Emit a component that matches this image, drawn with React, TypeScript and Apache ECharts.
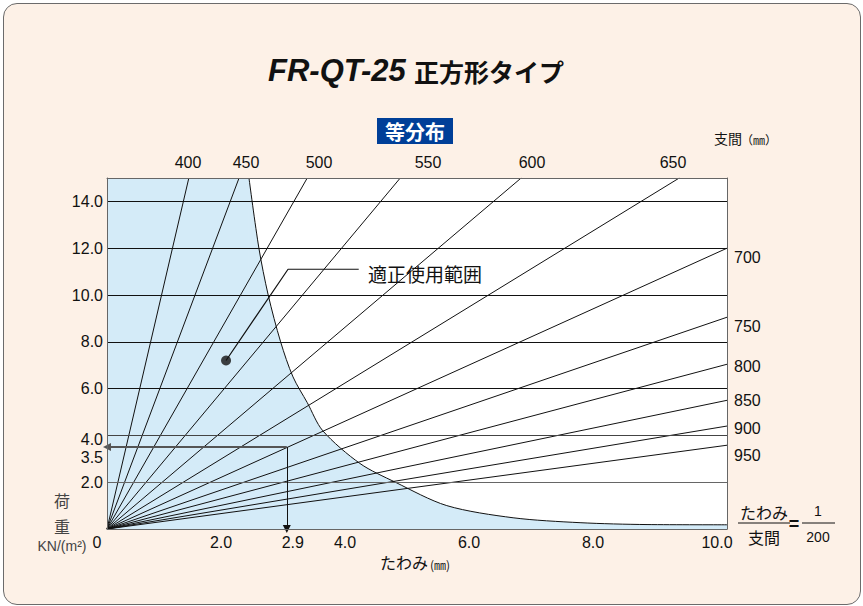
import { useEffect, useRef } from 'react';
import * as echarts from 'echarts';

// ---- data ----
const spans = [400, 450, 500, 550, 600, 650, 700, 750, 800, 850, 900, 950];
// end point (deflection mm, load kN/m2) of each span line, which all start at the origin
const lineEndDeflection = [1.32, 2.13, 3.23, 4.73, 6.68, 9.23, 10, 10, 10, 10, 10, 10];
const lineEndLoad = [15, 15, 15, 15, 15, 15, 12.0, 9.05, 7.04, 5.5, 4.4, 3.58];
// limit curve deflection/span = 1/200
const limitDeflection = [2.29, 2.45, 2.6, 2.8, 3.0, 3.23, 3.48, 4.08, 4.65, 5.48, 6.55, 7.63, 8.71, 10.0];
const limitLoad = [15.0, 12.0, 10.0, 8.0, 6.5, 5.4, 4.2, 2.8, 2.0, 1.0, 0.48, 0.27, 0.19, 0.18];
const xTicks = [0, 2, 2.9, 4, 6, 8, 10];
const yTicks = [2, 3.5, 4, 6, 8, 10, 12, 14];
const exampleLoad = 3.5;
const exampleDeflection = 2.9;
const leaderDeflection = [1.92, 2.92, 4.06];
const leaderLoad = [7.2, 11.1, 11.1];
const topSpanLabels = ['400', '450', '500', '550', '600', '650'];
const rightSpanLabels = ['700', '750', '800', '850', '900', '950'];

const NUM = '"Liberation Sans", Arial, sans-serif';
const JP = '"Noto Sans CJK JP", "Liberation Sans", sans-serif';

export default function App() {
  const ref = useRef<HTMLDivElement>(null);
  useEffect(() => {
    if (!ref.current) return;
    const chart = echarts.init(ref.current, null, { renderer: 'svg' });

    const spanSeries = spans.map((s, i) => ({
      type: 'line',
      name: String(s),
      data: [
        [0, 0],
        [lineEndDeflection[i], lineEndLoad[i]],
      ],
      symbol: 'none',
      silent: true,
      lineStyle: { color: '#111', width: 1 },
      z: 3,
    }));

    const curveData = limitDeflection.map((d, i) => [d, limitLoad[i]]);

    const topX = [188, 246, 319, 428, 532, 673];
    const rightY = [257, 326, 366, 400, 428, 455];

    const txt = (text: string, x: number, y: number, font: string, align = 'center', fill = '#111') => ({
      type: 'text',
      x,
      y,
      silent: true,
      style: { text, font, fill, align, verticalAlign: 'middle' },
    });

    const graphics: any[] = [
      txt('FR-QT-25', 268, 70, `italic bold 31px ${NUM}`, 'left'),
      txt('正方形タイプ', 414, 71, `bold 25px ${JP}`, 'left'),
      {
        type: 'rect',
        silent: true,
        shape: { x: 377, y: 118, width: 76, height: 26 },
        style: { fill: '#003f98' },
      },
      txt('等分布', 415, 131, `bold 20px ${JP}`, 'center', '#ffffff'),
      txt('支間', 714, 138, `14px ${JP}`, 'left'),
      txt('（㎜）', 741, 139, `12px ${JP}`, 'left'),
      ...topSpanLabels.map((t, i) => txt(t, topX[i], 162, `16px ${NUM}`)),
      ...rightSpanLabels.map((t, i) => txt(t, 734, rightY[i], `16px ${NUM}`, 'left')),
      txt('適正使用範囲', 368, 273, `19px ${JP}`, 'left'),
      txt('たわみ', 380, 562, `16px ${JP}`, 'left'),
      txt('(㎜)', 430, 564, `12px ${JP}`, 'left'),
      txt('荷', 62, 500, `16px ${JP}`, 'center', '#444'),
      txt('重', 62, 526, `16px ${JP}`, 'center', '#444'),
      txt('KN/(m²)', 62, 546, `14px ${NUM}`, 'center', '#444'),
      txt('たわみ', 764, 512, `16px ${JP}`),
      { type: 'line', silent: true, shape: { x1: 738, y1: 523, x2: 790, y2: 523 }, style: { stroke: '#111', lineWidth: 1 } },
      txt('支間', 764, 537, `16px ${JP}`),
      txt('=', 794, 524, `bold 18px ${NUM}`),
      txt('1', 818, 511, `14px ${NUM}`),
      { type: 'line', silent: true, shape: { x1: 802, y1: 523, x2: 835, y2: 523 }, style: { stroke: '#111', lineWidth: 1 } },
      txt('200', 818, 537, `14px ${NUM}`),
    ];

    const option: any = {
      animation: false,
      backgroundColor: 'transparent',
      textStyle: { fontFamily: NUM },
      grid: {
        left: 107,
        top: 178,
        right: 136,
        bottom: 77,
        show: true,
        backgroundColor: '#ffffff',
        borderWidth: 0,
      },
      xAxis: [
        {
          type: 'value',
          min: 0,
          max: 10,
          position: 'bottom',
          z: 5,
          axisLine: { show: true, onZero: false, lineStyle: { color: '#666', width: 1 } },
          axisTick: { show: false },
          splitLine: { show: false },
          axisLabel: {
            customValues: xTicks,
            margin: 5,
            formatter: (v: number) => {
              const t = v === 0 ? '0' : v.toFixed(1);
              if (Math.abs(v - exampleDeflection) < 1e-6) return `{l| }{v|${t}}`;
              return `{v|${t}}{r| }`;
            },
            rich: {
              v: { fontSize: 16, color: '#111', fontFamily: NUM },
              l: { width: 12, fontSize: 4 },
              r: { width: 20, fontSize: 4 },
            },
          },
        },
        {
          type: 'value',
          min: 0,
          max: 10,
          position: 'top',
          z: 5,
          axisLine: { show: true, onZero: false, lineStyle: { color: '#666', width: 1 } },
          axisTick: { show: false },
          axisLabel: { show: false },
          splitLine: { show: false },
        },
      ],
      yAxis: [
        {
          type: 'value',
          min: 0,
          max: 15,
          interval: 2,
          position: 'left',
          z: 5,
          axisLine: { show: true, onZero: false, lineStyle: { color: '#666', width: 1 } },
          axisTick: { show: false },
          splitLine: {
            show: true,
            showMinLine: false,
            showMaxLine: false,
            lineStyle: { color: ['#666', '#444', '#111', '#111', '#111', '#111', '#111'], width: 1 },
          },
          axisLabel: {
            customValues: yTicks,
            margin: 4,
            formatter: (v: number) => {
              const t = v.toFixed(1);
              if (Math.abs(v - exampleLoad) < 1e-6) return `{g2| }\n{v|${t}}`;
              if (Math.abs(v - 4) < 1e-6) return `{g1| }\n{v|${t}}`;
              return `{v|${t}}`;
            },
            rich: {
              v: { fontSize: 16, color: '#111', lineHeight: 18, fontFamily: NUM },
              g1: { fontSize: 4, lineHeight: 8 },
              g2: { fontSize: 4, lineHeight: 20 },
            },
          },
        },
        {
          type: 'value',
          min: 0,
          max: 15,
          position: 'right',
          z: 5,
          axisLine: { show: true, onZero: false, lineStyle: { color: '#666', width: 1 } },
          axisTick: { show: false },
          axisLabel: { show: false },
          splitLine: { show: false },
        },
      ],
      series: [
        {
          type: 'line',
          name: 'range-rect',
          data: [
            [0, limitLoad[0]],
            [limitDeflection[0], limitLoad[0]],
          ],
          symbol: 'none',
          silent: true,
          lineStyle: { width: 0 },
          areaStyle: { color: '#d4ebf8', opacity: 1 },
          z: 1,
        },
        {
          type: 'line',
          name: 'range-area',
          data: curveData,
          smooth: 0.3,
          symbol: 'none',
          silent: true,
          lineStyle: { width: 0 },
          areaStyle: { color: '#d4ebf8', opacity: 1 },
          z: 1,
        },
        ...spanSeries,
        {
          type: 'line',
          name: 'limit',
          data: curveData,
          smooth: 0.3,
          symbol: 'none',
          silent: true,
          lineStyle: { color: '#111', width: 1 },
          z: 3,
        },
        {
          type: 'line',
          name: 'leader',
          data: leaderDeflection.map((d, i) => [d, leaderLoad[i]]),
          symbol: 'none',
          silent: true,
          lineStyle: { color: '#111', width: 1.2 },
          z: 4,
        },
        {
          type: 'scatter',
          name: 'dot',
          data: [[leaderDeflection[0], leaderLoad[0]]],
          symbol: 'circle',
          symbolSize: 10,
          silent: true,
          itemStyle: { color: '#111' },
          z: 4,
        },
        {
          type: 'line',
          name: 'example',
          data: [[exampleDeflection, exampleLoad]],
          symbol: 'none',
          silent: true,
          lineStyle: { width: 0 },
          z: 4,
          markLine: {
            silent: true,
            symbol: ['none', 'triangle'],
            symbolSize: 8,
            label: { show: false },
            emphasis: { disabled: true },
            data: [
              [
                { coord: [exampleDeflection, exampleLoad], lineStyle: { color: '#555', width: 2, type: 'solid' } },
                { coord: [0, exampleLoad] },
              ],
              [
                { coord: [exampleDeflection, exampleLoad], lineStyle: { color: '#111', width: 1, type: 'solid' } },
                { coord: [exampleDeflection, 0] },
              ],
            ],
          },
        },
      ],
      graphic: graphics,
    };

    chart.setOption(option);
    return () => chart.dispose();
  }, []);

  return (
    <div style={{ position: 'absolute', left: 0, top: 0, width: 863, height: 606 }}>
      <div
        style={{
          position: 'absolute',
          left: 3,
          top: 3,
          width: 858,
          height: 602,
          boxSizing: 'border-box',
          border: '1.5px solid #6b6b6b',
          borderRadius: 14,
          background: '#fdf1e7',
        }}
      />
      <div ref={ref} style={{ position: 'absolute', left: 0, top: 0, width: 863, height: 606 }} />
    </div>
  );
}
